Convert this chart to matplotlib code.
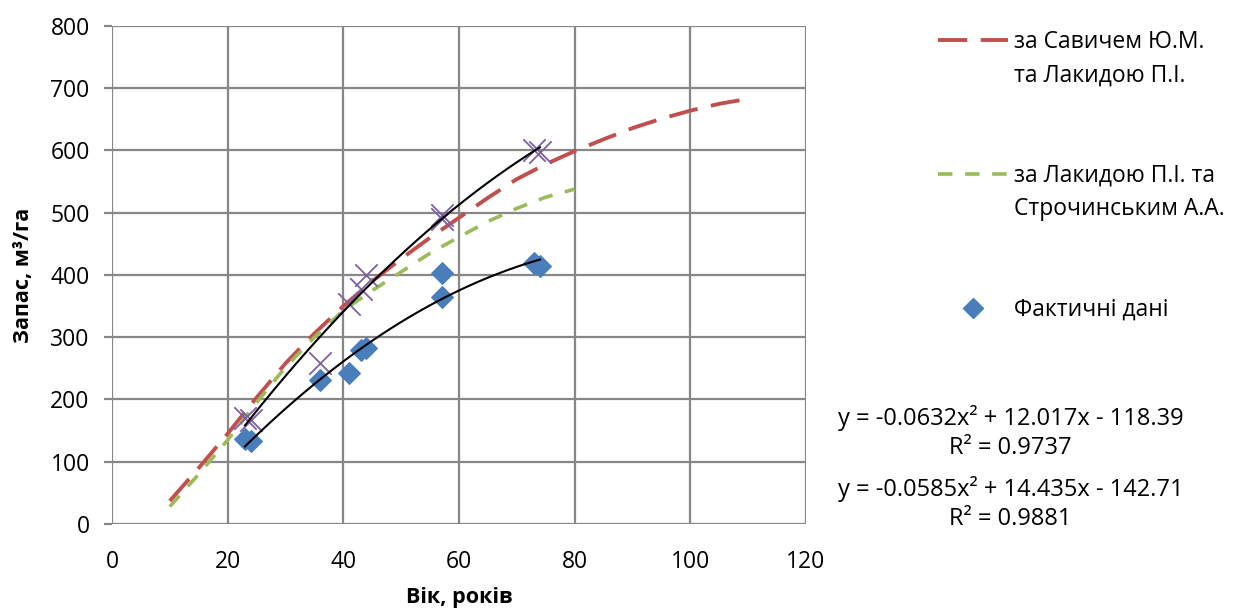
import matplotlib
matplotlib.use("Agg")
import matplotlib.pyplot as plt
from matplotlib.lines import Line2D
import numpy as np

plt.rcParams['font.family'] = ['Open Sans', 'DejaVu Sans']

# табличні криві
savich_age = [10, 15, 20, 25, 30, 35, 40, 45, 50, 55, 60, 65, 70, 75, 80, 85, 90, 95, 100, 105, 110]
savich_stock = [37, 90, 145, 203, 258, 306, 350, 390, 426, 460, 492, 524, 554, 578, 599, 618, 636, 651, 664, 675, 683]

lakyda_age = [10, 15, 20, 25, 30, 35, 40, 45, 50, 55, 60, 65, 70, 75, 80]
lakyda_stock = [28, 80, 135, 195, 252, 300, 343, 375, 405, 435, 461, 486, 507, 525, 538]

# фактичні дані
age = [23, 24, 36, 41, 43, 44, 57, 57, 73, 74]
stock_fact = [136, 134, 231, 242, 279, 282, 403, 364, 419, 415]
stock_cross = [171, 167, 258, 353, 377, 400, 497, 490, 601, 597]

# лінії тренду (коефіцієнти з рівнянь на графіку)
coef_fact = [-0.0632, 12.017, -118.39]
r2_fact = 0.9737
coef_cross = [-0.0585, 14.435, -142.71]
r2_cross = 0.9881

red = '#C0504D'
green = '#9BBB59'
blue = '#4A7EBB'
purple = '#7D60A0'
grid_c = '#878787'

fig = plt.figure(figsize=(12.4, 6.13), dpi=100)
ax = fig.add_axes([0.0903, 0.1452, 0.5597, 0.8124])

ax.plot(savich_age, savich_stock, color=red, lw=2.8, dashes=(7.5, 3.5), zorder=3)
ax.plot(lakyda_age, lakyda_stock, color=green, lw=2.6, dashes=(4, 3.5), zorder=3)

ax.scatter(age, stock_fact, marker='D', s=120, color=blue, zorder=4)
ax.scatter(age, stock_cross, marker='x', s=260, color=purple, linewidths=1.3, zorder=4)

xt = np.linspace(min(age), max(age), 100)
ax.plot(xt, np.polyval(coef_fact, xt), color='black', lw=1.5, zorder=5)
ax.plot(xt, np.polyval(coef_cross, xt), color='black', lw=1.5, zorder=5)

ax.set_xlim(0, 120)
ax.set_ylim(0, 800)
ax.set_xticks(range(0, 121, 20))
ax.set_yticks(range(0, 801, 100))
ax.grid(True, color=grid_c, lw=1.6)
ax.set_axisbelow(True)
for s in ax.spines.values():
    s.set_visible(False)
ax.tick_params(axis='y', length=6, width=1.6, color=grid_c, labelsize=16.5, pad=10)
ax.tick_params(axis='x', length=0, labelsize=16.5, pad=19)

ax.set_xlabel('Вік, років', fontsize=15.5, fontweight='bold', labelpad=9)
ax.set_ylabel('Запас, м³/га', fontsize=15.5, fontweight='bold', labelpad=12)

# легенда
blank = Line2D([], [], linestyle='none')
handles = [
    Line2D([], [], color=red, lw=2.8, dashes=(7.5, 3.5)),
    blank, blank, blank,
    Line2D([], [], color=green, lw=2.6, dashes=(4, 3.5)),
    blank, blank, blank,
    Line2D([], [], linestyle='none', marker='D', markersize=10, color=blue),
]
labels = ['за Савичем Ю.М.', 'та Лакидою П.І.', ' ', ' ',
          'за Лакидою П.І. та', 'Строчинським А.А.', ' ', ' ',
          'Фактичні дані']
fig.legend(handles, labels, loc='upper left', bbox_to_anchor=(0.7472, 0.969),
           frameon=False, fontsize=16.5, handlelength=3.05, handletextpad=0.26,
           labelspacing=0.41, borderpad=0)


def eq_text(c, r2):
    return (f'y = {c[0]}x² + {c[1]}x - {abs(c[2])}\n'
            f'R² = {r2}')


fig.text(0.815, 1 - 432.5 / 613, eq_text(coef_fact, r2_fact), ha='center', va='center',
         fontsize=17, multialignment='center', linespacing=1.25)
fig.text(0.815, 1 - 503.5 / 613, eq_text(coef_cross, r2_cross), ha='center', va='center',
         fontsize=17, multialignment='center', linespacing=1.25)

fig.savefig('out.png', dpi=100)
